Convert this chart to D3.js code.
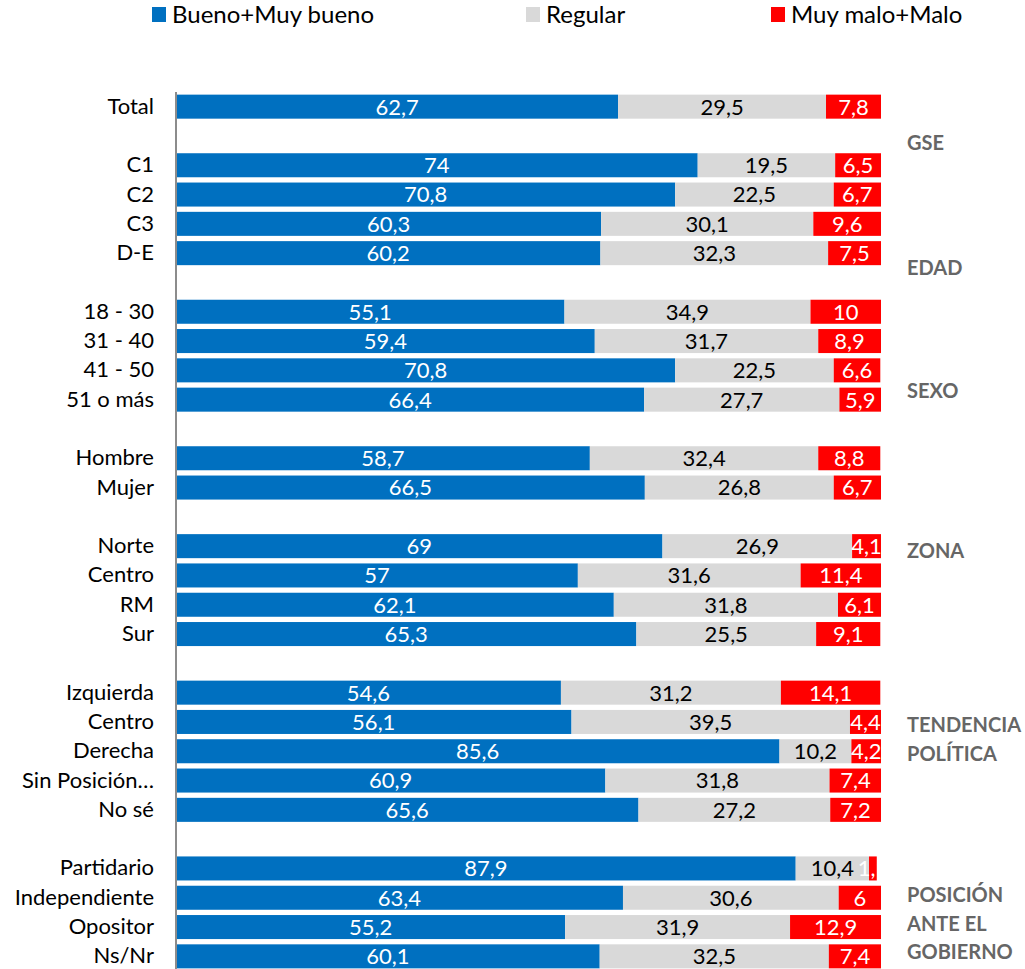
<!DOCTYPE html>
<html>
<head>
<meta charset="utf-8">
<script src="https://cdn.jsdelivr.net/npm/d3@7"></script>
<style>
  body { margin: 0; background: #fff; }
  svg { font-family: Lato, "Open Sans", sans-serif; }
</style>
</head>
<body>
<div id="chart"></div>
<script>
// rows, "" = blank spacer row
var categories = ["Total", "", "C1", "C2", "C3", "D-E", "", "18 - 30", "31 - 40", "41 - 50", "51 o más", "",
    "Hombre", "Mujer", "", "Norte", "Centro", "RM", "Sur", "",
    "Izquierda", "Centro", "Derecha", "Sin Posición…", "No sé", "",
    "Partidario", "Independiente", "Opositor", "Ns/Nr"];
var bueno   = [62.7, null, 74, 70.8, 60.3, 60.2, null, 55.1, 59.4, 70.8, 66.4, null,
    58.7, 66.5, null, 69, 57, 62.1, 65.3, null,
    54.6, 56.1, 85.6, 60.9, 65.6, null,
    87.9, 63.4, 55.2, 60.1];
var regular = [29.5, null, 19.5, 22.5, 30.1, 32.3, null, 34.9, 31.7, 22.5, 27.7, null,
    32.4, 26.8, null, 26.9, 31.6, 31.8, 25.5, null,
    31.2, 39.5, 10.2, 31.8, 27.2, null,
    10.4, 30.6, 31.9, 32.5];
var malo    = [7.8, null, 6.5, 6.7, 9.6, 7.5, null, 10, 8.9, 6.6, 5.9, null,
    8.8, 6.7, null, 4.1, 11.4, 6.1, 9.1, null,
    14.1, 4.4, 4.2, 7.4, 7.2, null,
    1.1, 6, 12.9, 7.4];
var seriesNames = ["Bueno+Muy bueno", "Regular", "Muy malo+Malo"];
var seriesColors = ["#0070c0", "#d9d9d9", "#ff0000"];
var labelColors = ["#ffffff", "#000000", "#ffffff"];
// group labels: row position (fractional) and lines
var groupRows = [1.25, 5.5, 9.7, 15.15, 21.1, 26.9];
var groupLines = [["GSE"], ["EDAD"], ["SEXO"], ["ZONA"], ["TENDENCIA", "POLÍTICA"], ["POSICIÓN", "ANTE EL", "GOBIERNO"]];

var w = 1025, h = 969;
var mLeft = 176, mRight = 881, mTop = 92, mBottom = 971;

var svg = d3.select("#chart").append("svg").attr("width", w).attr("height", h);

var rows = categories.map(function (c, i) {
    return { key: i, label: c, vals: [bueno[i], regular[i], malo[i]] };
});

var xScale = d3.scaleLinear().domain([0, 100]).range([mLeft, mRight]);
var yScale = d3.scaleBand().domain(d3.range(rows.length)).range([mTop, mBottom]).paddingInner(0.18).paddingOuter(0.09);

svg.append("defs").append("clipPath").attr("id", "plotclip")
    .append("rect").attr("x", mLeft).attr("y", 0).attr("width", mRight - mLeft).attr("height", h);

var plot = svg.append("g").attr("clip-path", "url(#plotclip)");

var dataRows = rows.filter(function (d) { return d.vals[0] != null; });

dataRows.forEach(function (r) {
    var acc = 0;
    r.vals.forEach(function (v, s) {
        var x0 = xScale(acc), x1 = xScale(acc + v);
        acc += v;
        plot.append("rect")
            .attr("x", x0)
            .attr("y", yScale(r.key))
            .attr("width", x1 - x0)
            .attr("height", yScale.bandwidth())
            .attr("fill", seriesColors[s]);
        plot.append("text")
            .attr("x", (x0 + x1) / 2)
            .attr("y", yScale(r.key) + yScale.bandwidth() / 2)
            .attr("dy", "0.36em")
            .attr("text-anchor", "middle")
            .attr("font-size", "22px")
            .attr("fill", labelColors[s])
            .text(String(v).replace(".", ","));
    });
});

// category axis
var yAxis = d3.axisLeft(yScale).tickSize(0).tickPadding(22).tickFormat(function (d) { return categories[d]; });
var ax = svg.append("g").attr("transform", "translate(" + mLeft + ",0)").call(yAxis);
ax.select(".domain").remove();
ax.selectAll("text").attr("font-size", "22px").attr("fill", "#000").attr("font-family", "Lato, sans-serif");
svg.append("line")
    .attr("x1", mLeft).attr("x2", mLeft)
    .attr("y1", mTop).attr("y2", h)
    .attr("stroke", "#8c8c8c").attr("stroke-width", 2);

// group labels
var step = yScale.step();
var y0 = yScale(0) + yScale.bandwidth() / 2;
groupRows.forEach(function (pos, i) {
    var t = svg.append("text")
        .attr("x", 907)
        .attr("y", y0 + pos * step)
        .attr("font-size", "20px")
        .attr("font-weight", "bold")
        .attr("fill", "#666666");
    groupLines[i].forEach(function (line, j) {
        t.append("tspan").attr("x", 907).attr("dy", j === 0 ? "0.36em" : "1.43em").text(line);
    });
});

// legend
var legX = [152, 526, 771];
var legend = svg.selectAll(".legend").data(seriesNames).enter().append("g")
    .attr("transform", function (d, i) { return "translate(" + legX[i] + ",6)"; });
legend.append("rect").attr("width", 14).attr("height", 15).attr("y", 1)
    .attr("fill", function (d, i) { return seriesColors[i]; });
legend.append("text").attr("x", 20).attr("y", 8).attr("dy", "0.36em")
    .attr("font-size", "24px").attr("fill", "#000")
    .text(function (d) { return d; });
</script>
</body>
</html>
